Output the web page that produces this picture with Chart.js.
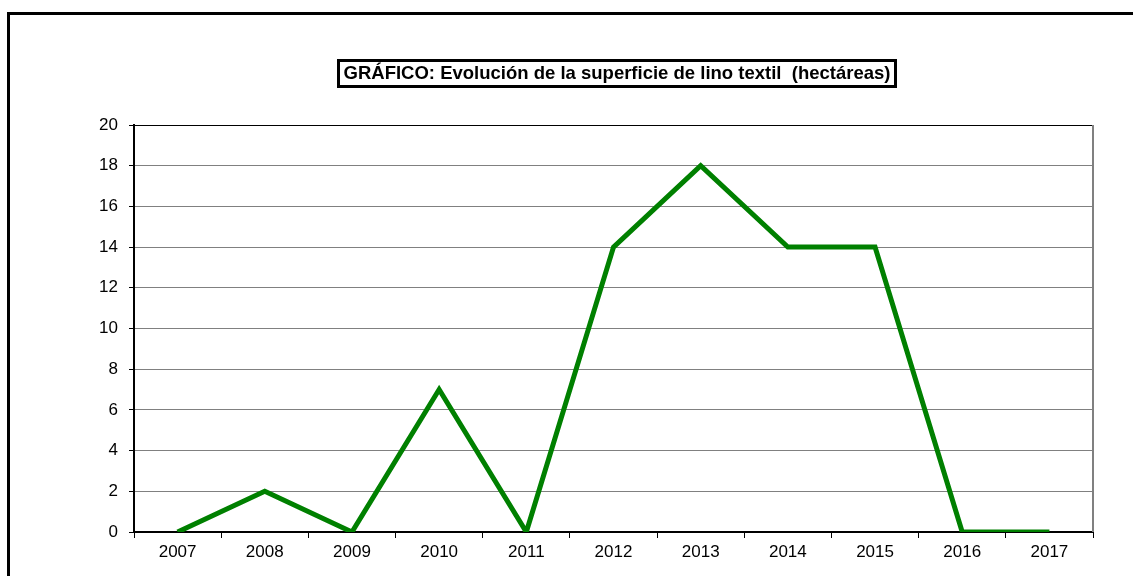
<!DOCTYPE html>
<html>
<head>
<meta charset="utf-8">
<script src="https://cdn.jsdelivr.net/npm/chart.js@4"></script>
<style>
  html, body { margin: 0; padding: 0; background: #fff; }
  #wrap { width: 1133px; height: 576px; position: relative; }
</style>
</head>
<body>
<div id="wrap"><canvas id="c" width="1133" height="576"></canvas></div>
<script>
const years = ['2007','2008','2009','2010','2011','2012','2013','2014','2015','2016','2017'];
const superficie = [0, 2, 0, 7, 0, 14, 18, 14, 14, 0, 0];
const titleText = 'GRÁFICO: Evolución de la superficie de lino textil  (hectáreas)';
const yMin = 0, yMax = 20, yStep = 2;

const framePlugin = {
  id: 'frame',
  afterDraw(chart) {
    const ctx = chart.ctx;
    const a = chart.chartArea;
    ctx.save();
    // outer frame
    ctx.strokeStyle = '#000';
    ctx.lineWidth = 3;
    ctx.strokeRect(8.5, 13.5, 1140, 600);
    // right border of plot area
    ctx.strokeStyle = '#808080';
    ctx.lineWidth = 2;
    ctx.beginPath();
    ctx.moveTo(a.right, a.top);
    ctx.lineTo(a.right, a.bottom);
    ctx.stroke();
    // title box
    ctx.font = 'bold 18.5px "Liberation Sans", Arial, sans-serif';
    ctx.textAlign = 'center';
    ctx.textBaseline = 'middle';
    const cx = 617, cy = 73;
    ctx.fillStyle = '#000';
    ctx.fillText(titleText, cx, cy + 1);
    ctx.lineWidth = 3;
    ctx.strokeStyle = '#000';
    ctx.strokeRect(338.5, 60.5, 557, 26);
    ctx.restore();
  }
};

new Chart(document.getElementById('c'), {
  type: 'line',
  data: {
    labels: years,
    datasets: [{
      data: superficie,
      borderColor: '#008000',
      borderWidth: 5,
      pointRadius: 0,
      pointHoverRadius: 0,
      tension: 0,
      fill: false,
      borderJoinStyle: 'miter'
    }]
  },
  options: {
    responsive: false,
    animation: false,
    events: [],
    layout: { padding: { left: 0, top: 125, right: 40, bottom: 0 } },
    plugins: { legend: { display: false }, title: { display: false }, tooltip: { enabled: false } },
    scales: {
      x: {
        offset: true,
        grid: { offset: true, drawOnChartArea: false, drawTicks: true, tickLength: 6, color: '#000', tickColor: '#000', lineWidth: 1 },
        border: { color: '#000', width: 2 },
        ticks: { color: '#000', font: { family: '"Liberation Sans", Arial, sans-serif', size: 17 }, padding: 4, maxRotation: 0, autoSkip: false },
        afterFit(s) { s.height = 44; }
      },
      y: {
        min: yMin, max: yMax,
        grid: {
          color: (c) => (c.tick && c.tick.value === yMax) ? '#000' : '#808080',
          lineWidth: 1,
          tickLength: 5,
          tickColor: '#000'
        },
        border: { color: '#000', width: 2 },
        ticks: { stepSize: yStep, color: '#000', font: { family: '"Liberation Sans", Arial, sans-serif', size: 17 }, padding: 11 },
        afterFit(s) { s.width = 134; }
      }
    }
  },
  plugins: [framePlugin]
});
</script>
</body>
</html>
